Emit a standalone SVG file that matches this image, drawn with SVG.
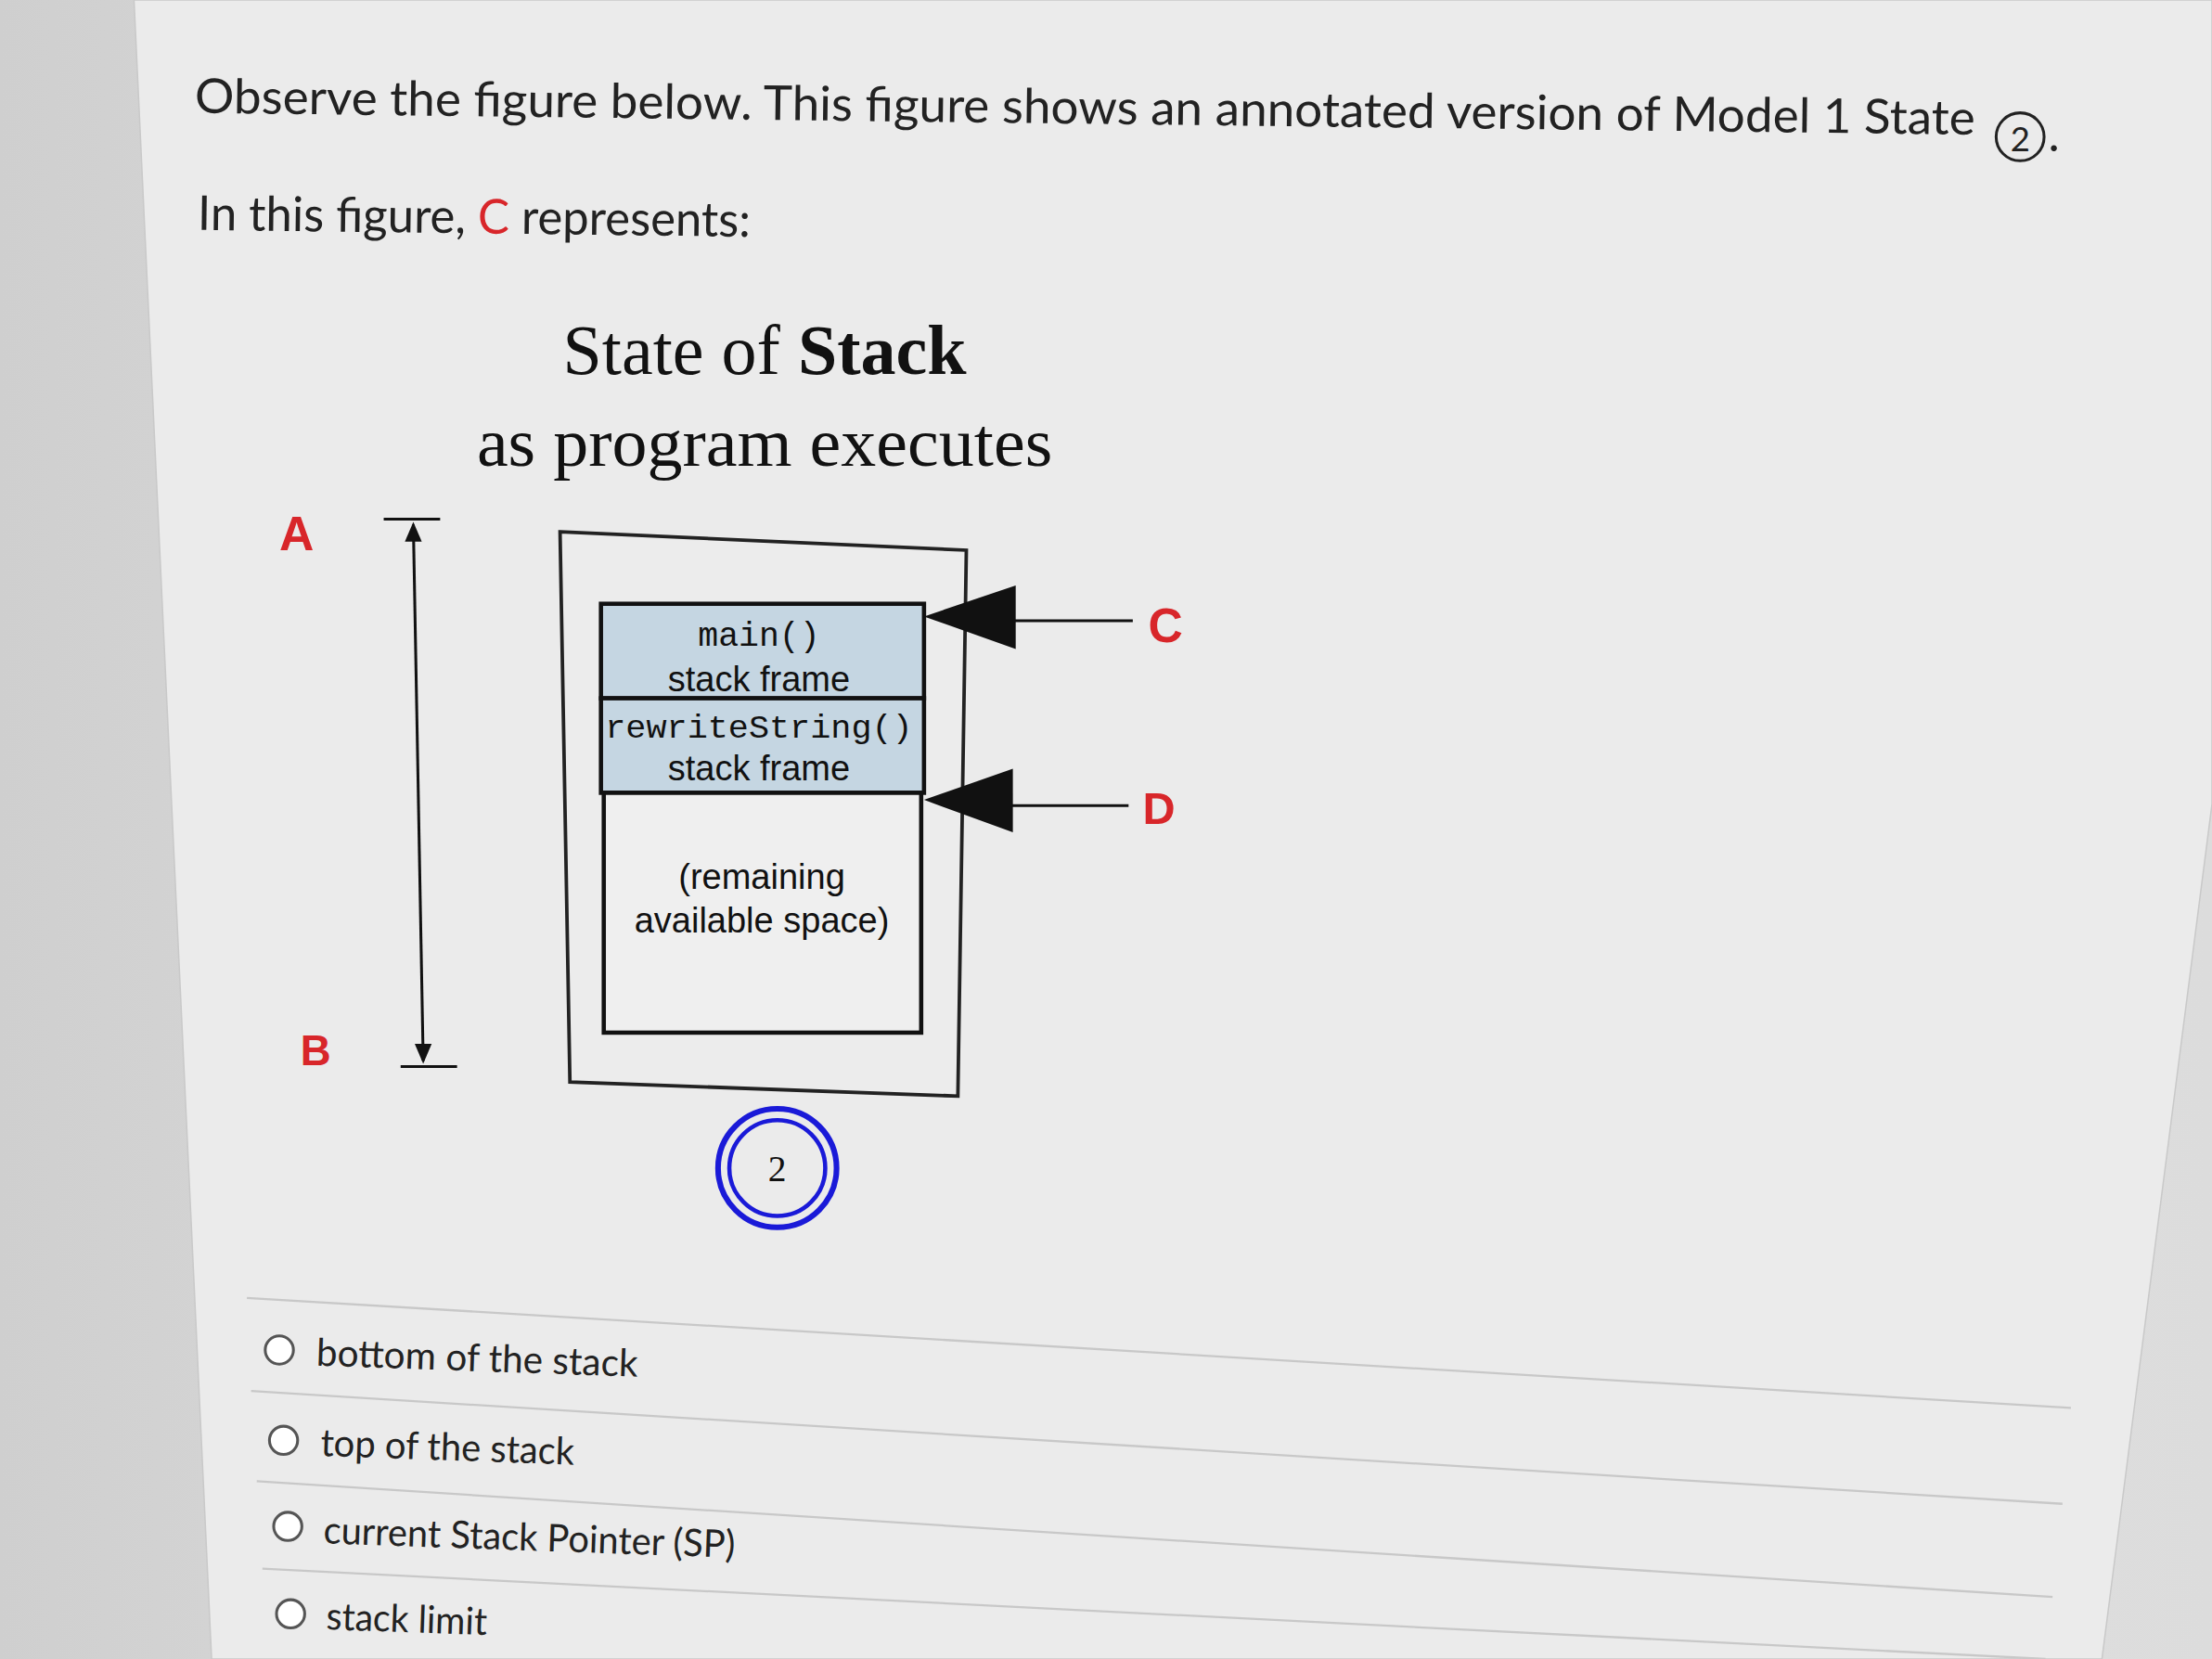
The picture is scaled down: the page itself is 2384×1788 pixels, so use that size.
<svg xmlns="http://www.w3.org/2000/svg" width="2384" height="1788" viewBox="0 0 2384 1788">
<style>
.t{font-family:Lato,"Liberation Sans",sans-serif;fill:#222}
.s{font-family:"Liberation Serif",serif;fill:#111}
.r{font-family:"Liberation Sans",sans-serif;font-weight:bold;fill:#d8262a}
.m{font-family:"Liberation Mono",monospace;fill:#111}
.f{font-family:"Liberation Sans",sans-serif;fill:#111}
.ln{stroke:#111;stroke-width:2;fill:none}
.sep{stroke:#c8c8c8;stroke-width:1.5}
</style>
<defs>
<linearGradient id="bg" x1="0" x2="1" y1="0" y2="0">
<stop offset="0" stop-color="#cfcfcf"/><stop offset="0.5" stop-color="#e4e4e4"/><stop offset="1" stop-color="#dcdcdc"/>
</linearGradient>
</defs>
<rect width="2384" height="1788" fill="url(#bg)"/>
<g transform="scale(1.5204)">
<polygon points="95,0 1568,0 1568,570 1490,1176 150,1176" fill="#ebebeb" stroke="#c9c9c9"/>
<g id="header">
<text class="t" x="138" y="80" font-size="34" textLength="1262" lengthAdjust="spacingAndGlyphs" transform="rotate(0.7 138 80)">Observe the figure below. This figure shows an annotated version of Model 1 State</text>
<circle cx="1432" cy="97" r="17" fill="none" stroke="#222" stroke-width="2"/>
<text class="t" x="1432" y="107" font-size="24" text-anchor="middle">2</text>
<text class="t" x="1452" y="107" font-size="34">.</text>
<text class="t" x="140" y="163" font-size="34" textLength="392" lengthAdjust="spacingAndGlyphs" transform="rotate(0.7 140 163)">In this figure, <tspan fill="#d8262a">C</tspan> represents:</text>
</g>
<g id="title">
<text class="s" x="542" y="265" font-size="50" text-anchor="middle">State of <tspan font-weight="bold">Stack</tspan></text>
<text class="s" x="542" y="330" font-size="48" text-anchor="middle" textLength="408" lengthAdjust="spacingAndGlyphs">as program executes</text>
</g>
<g id="labelA"><text class="r" x="198" y="390" font-size="34">A</text></g>
<g id="labelB"><text class="r" x="213" y="755" font-size="30">B</text></g>
<g id="outer"><polygon points="397,377 685,390 679,777 404,767" fill="#ececec" stroke="#222" stroke-width="2.5"/></g>
<g id="mainFrame"><rect x="426" y="428" width="229" height="67" fill="#c5d6e2" stroke="#111" stroke-width="3"/>
<text class="m" x="538" y="458" font-size="24" text-anchor="middle">main()</text>
<text class="f" x="538" y="490" font-size="25" text-anchor="middle">stack frame</text></g>
<g id="rewriteFrame"><rect x="426" y="495" width="229" height="67" fill="#c5d6e2" stroke="#111" stroke-width="3"/>
<text class="m" x="538" y="523" font-size="23" text-anchor="middle" textLength="218" lengthAdjust="spacingAndGlyphs">rewriteString()</text>
<text class="f" x="538" y="553" font-size="25" text-anchor="middle">stack frame</text></g>
<g id="remaining"><rect x="428" y="562" width="225" height="170" fill="#efefef" stroke="#111" stroke-width="3"/>
<text class="f" x="540" y="630" font-size="25" text-anchor="middle">(remaining</text>
<text class="f" x="540" y="661" font-size="25" text-anchor="middle">available space)</text></g>
<g id="connectors">
<line class="ln" x1="293" y1="372" x2="300" y2="752"/>
<line class="ln" x1="272" y1="368" x2="312" y2="368" stroke-width="3"/>
<line class="ln" x1="284" y1="756" x2="324" y2="756" stroke-width="3"/>
<polygon points="293,370 287,384 299,384" fill="#111"/>
<polygon points="300,754 294,740 306,740" fill="#111"/>
<polygon points="655,437 720,415 720,460" fill="#111"/>
<line class="ln" x1="718" y1="440" x2="803" y2="440"/>
<polygon points="655,567 718,545 718,590" fill="#111"/>
<line class="ln" x1="716" y1="571" x2="800" y2="571"/>
</g>
<g id="labelC"><text class="r" x="814" y="455" font-size="34">C</text></g>
<g id="labelD"><text class="r" x="810" y="584" font-size="32">D</text></g>
<g id="state2">
<circle cx="551" cy="828" r="42" fill="none" stroke="#1a1ad8" stroke-width="4"/>
<circle cx="551" cy="828" r="34" fill="none" stroke="#1a1ad8" stroke-width="3"/>
<text class="s" x="551" y="837" font-size="26" text-anchor="middle">2</text>
</g>
<g id="options">
<line class="sep" x1="175" y1="920" x2="1468" y2="998"/>
<line class="sep" x1="178" y1="986" x2="1462" y2="1066"/>
<line class="sep" x1="182" y1="1050" x2="1455" y2="1132"/>
<line class="sep" x1="186" y1="1112" x2="1450" y2="1176"/>
<circle cx="198" cy="957" r="10" fill="#fff" stroke="#555" stroke-width="2"/>
<text class="t" x="224" y="968" font-size="27" textLength="228" lengthAdjust="spacingAndGlyphs" transform="rotate(2 224 968)">bottom of the stack</text>
<circle cx="201" cy="1021" r="10" fill="#fff" stroke="#555" stroke-width="2"/>
<text class="t" x="227" y="1032" font-size="27" textLength="180" lengthAdjust="spacingAndGlyphs" transform="rotate(2 227 1032)">top of the stack</text>
<circle cx="204" cy="1082" r="10" fill="#fff" stroke="#555" stroke-width="2"/>
<text class="t" x="229" y="1094" font-size="27" textLength="292" lengthAdjust="spacingAndGlyphs" transform="rotate(2 229 1094)">current Stack Pointer (SP)</text>
<circle cx="206" cy="1144" r="10" fill="#fff" stroke="#555" stroke-width="2"/>
<text class="t" x="231" y="1155" font-size="27" textLength="114" lengthAdjust="spacingAndGlyphs" transform="rotate(2 231 1155)">stack limit</text>
</g>
</g>
</svg>
